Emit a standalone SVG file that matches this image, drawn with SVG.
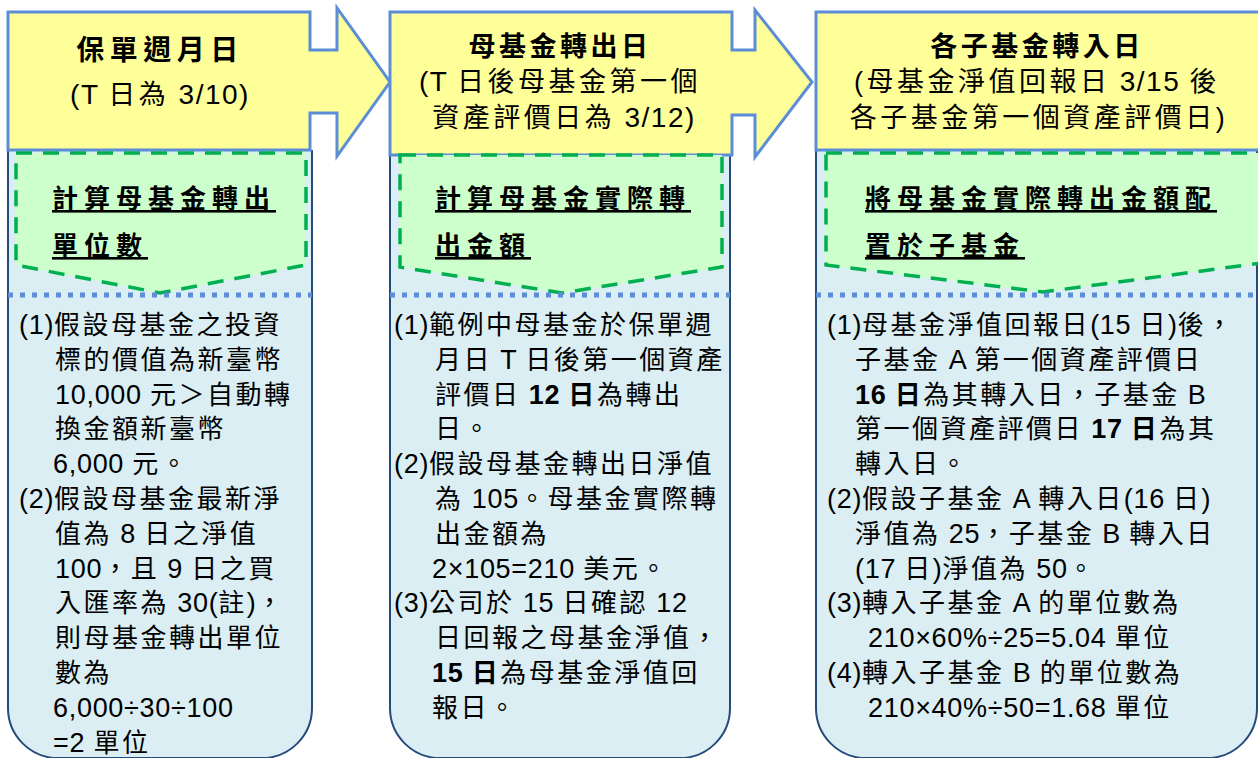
<svg xmlns="http://www.w3.org/2000/svg" width="1258" height="758" viewBox="0 0 1258 758">
<defs>
<style>
.cont{fill:#daeef3;stroke:#254a7c;stroke-width:2}
.head{fill:#ffff99;stroke:#5b8ed6;stroke-width:3;stroke-linejoin:miter}
.chev{fill:#ccffcc;stroke:#00b050;stroke-width:3.5;stroke-dasharray:16 11}
.dots{stroke:#5b8ed6;stroke-width:5;stroke-dasharray:5 7;fill:none}
text{font-family:"Liberation Sans","Noto Sans CJK TC",sans-serif;fill:#000}
.h1{font-size:27px;font-weight:bold;letter-spacing:3.5px;text-anchor:middle}
.h2{font-size:27px;letter-spacing:3.5px;text-anchor:middle}
.hl{font-size:28px;letter-spacing:1.5px}
.g{font-size:26px;font-weight:bold;letter-spacing:6px;text-decoration:underline}
.b{font-size:26px;letter-spacing:2.5px}
.l{font-size:27px;letter-spacing:0.7px}
.bb{font-weight:bold}
</style>
</defs>

<g id="node-policy-day">
<path class="cont" d="M8,150 V708 A50,50 0 0 0 58,758 H262 A50,50 0 0 0 312,708 V150"/>
<polygon class="head" points="8,12 310,12 310,50 337,50 337,8 390,82 337,156 337,113 310,113 310,150 8,150"/>
<polygon class="chev" points="16,153 306,153 306,265 160,293 16,265"/>
<line class="dots" x1="8" y1="295" x2="312" y2="295"/>
<text class="h1" x="160" y="60" style="font-size:28px;letter-spacing:5.5px">保單週月日</text>
<text class="h2" x="160" y="104"><tspan class="hl">(T </tspan>日為<tspan class="hl"> 3/10)</tspan></text>
<text class="g" x="52" y="208">計算母基金轉出</text>
<text class="g" x="52" y="255">單位數</text>
<text class="b">
<tspan x="19" y="334"><tspan class="l">(1)</tspan>假設母基金之投資</tspan>
<tspan x="55" y="368.8">標的價值為新臺幣</tspan>
<tspan x="55" y="403.6"><tspan class="l">10,000 </tspan>元＞自動轉</tspan>
<tspan x="55" y="438.4">換金額新臺幣</tspan>
<tspan x="53" y="473.2"><tspan class="l">6,000 </tspan>元。</tspan>
<tspan x="19" y="508"><tspan class="l">(2)</tspan>假設母基金最新淨</tspan>
<tspan x="55" y="542.8">值為<tspan class="l"> 8 </tspan>日之淨值</tspan>
<tspan x="55" y="577.6"><tspan class="l">100</tspan>，且<tspan class="l"> 9 </tspan>日之買</tspan>
<tspan x="55" y="612.4">入匯率為<tspan class="l"> 30(</tspan>註<tspan class="l">)</tspan>，</tspan>
<tspan x="55" y="647.2">則母基金轉出單位</tspan>
<tspan x="55" y="682">數為</tspan>
<tspan x="53" y="716.8" class="l">6,000÷30÷100</tspan>
<tspan x="53" y="751.6"><tspan class="l">=2 </tspan>單位</tspan>
</text>
</g>

<g id="node-parent-out-day">
<path class="cont" d="M390,150 V708 A50,50 0 0 0 440,758 H680 A50,50 0 0 0 730,708 V150"/>
<polygon class="head" points="390,12 732,12 732,50 755,50 755,10 812,82 755,157 755,115 732,115 732,155 390,155"/>
<polygon class="chev" points="400,155 722,155 722,267 562,293 400,267"/>
<line class="dots" x1="390" y1="295" x2="730" y2="295"/>
<text class="h1" x="560" y="56">母基金轉出日</text>
<text class="h2" x="560" y="91"><tspan class="hl">(T </tspan>日後母基金第一個</text>
<text class="h2" x="564" y="127">資產評價日為<tspan class="hl"> 3/12)</tspan></text>
<text class="g" x="435" y="208">計算母基金實際轉</text>
<text class="g" x="435" y="255">出金額</text>
<text class="b">
<tspan x="394" y="334"><tspan class="l">(1)</tspan>範例中母基金於保單週</tspan>
<tspan x="435" y="368.8">月日<tspan class="l"> T </tspan>日後第一個資產</tspan>
<tspan x="435" y="403.6">評價日<tspan class="l bb"> 12 </tspan><tspan class="bb">日</tspan>為轉出</tspan>
<tspan x="435" y="438.4">日。</tspan>
<tspan x="394" y="473.2"><tspan class="l">(2)</tspan>假設母基金轉出日淨值</tspan>
<tspan x="435" y="508">為<tspan class="l"> 105</tspan>。母基金實際轉</tspan>
<tspan x="435" y="542.8">出金額為</tspan>
<tspan x="432" y="577.6"><tspan class="l">2×105=210 </tspan>美元。</tspan>
<tspan x="394" y="612.4"><tspan class="l">(3)</tspan>公司於<tspan class="l"> 15 </tspan>日確認<tspan class="l"> 12</tspan></tspan>
<tspan x="435" y="647.2">日回報之母基金淨值，</tspan>
<tspan x="432" y="682"><tspan class="l bb">15 </tspan><tspan class="bb">日</tspan>為母基金淨值回</tspan>
<tspan x="432" y="716.8">報日。</tspan>
</text>
</g>

<g id="node-child-in-day">
<path class="cont" d="M816,150 V708 A50,50 0 0 0 866,758 H1207 A50,50 0 0 0 1257,708 V150"/>
<rect class="head" x="816" y="12" width="450" height="138"/>
<polygon class="chev" points="826,153 1262,153 1262,263 1043,292 826,265"/>
<line class="dots" x1="816" y1="295" x2="1258" y2="295"/>
<text class="h1" x="1037" y="56">各子基金轉入日</text>
<text class="h2" x="1037" y="91">(母基金淨值回報日<tspan class="hl"> 3/15 </tspan>後</text>
<text class="h2" x="1039" y="127">各子基金第一個資產評價日)</text>
<text class="g" x="865" y="208">將母基金實際轉出金額配</text>
<text class="g" x="865" y="255">置於子基金</text>
<text class="b">
<tspan x="827" y="334"><tspan class="l">(1)</tspan>母基金淨值回報日<tspan class="l">(15 </tspan>日<tspan class="l">)</tspan>後，</tspan>
<tspan x="855" y="368.8">子基金<tspan class="l"> A </tspan>第一個資產評價日</tspan>
<tspan x="855" y="403.6"><tspan class="l bb">16 </tspan><tspan class="bb">日</tspan>為其轉入日，子基金<tspan class="l"> B</tspan></tspan>
<tspan x="855" y="438.4">第一個資產評價日<tspan class="l bb"> 17 </tspan><tspan class="bb">日</tspan>為其</tspan>
<tspan x="855" y="473.2">轉入日。</tspan>
<tspan x="827" y="508"><tspan class="l">(2)</tspan>假設子基金<tspan class="l"> A </tspan>轉入日<tspan class="l">(16 </tspan>日<tspan class="l">)</tspan></tspan>
<tspan x="855" y="542.8">淨值為<tspan class="l"> 25</tspan>，子基金<tspan class="l"> B </tspan>轉入日</tspan>
<tspan x="855" y="577.6"><tspan class="l">(17 </tspan>日<tspan class="l">)</tspan>淨值為<tspan class="l"> 50</tspan>。</tspan>
<tspan x="827" y="612.4"><tspan class="l">(3)</tspan>轉入子基金<tspan class="l"> A </tspan>的單位數為</tspan>
<tspan x="868" y="647.2"><tspan class="l">210×60%÷25=5.04 </tspan>單位</tspan>
<tspan x="827" y="682"><tspan class="l">(4)</tspan>轉入子基金<tspan class="l"> B </tspan>的單位數為</tspan>
<tspan x="868" y="716.8"><tspan class="l">210×40%÷50=1.68 </tspan>單位</tspan>
</text>
</g>

<g id="connectors"></g>
</svg>
